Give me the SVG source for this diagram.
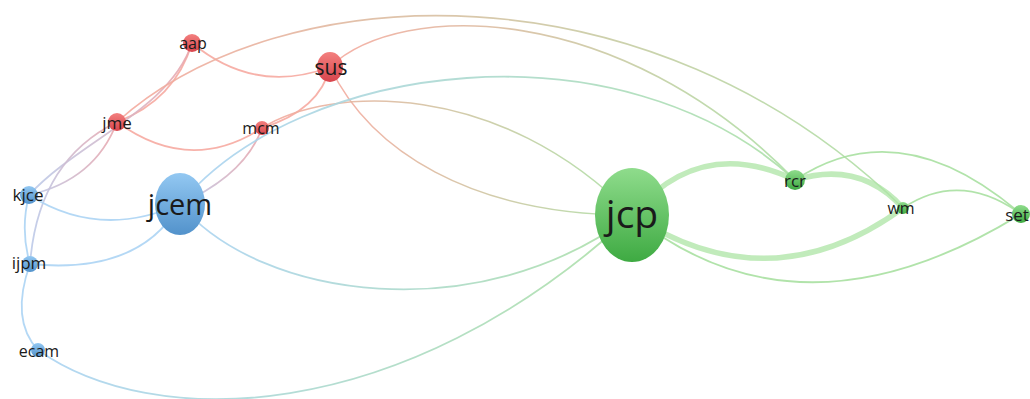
<svg xmlns="http://www.w3.org/2000/svg" width="1030" height="399" viewBox="0 0 1030 399">
<defs>
<linearGradient id="nr" x1="0" y1="0" x2="0" y2="1"><stop offset="0" stop-color="#f3807f"/><stop offset="1" stop-color="#d8444c"/></linearGradient>
<linearGradient id="nb" x1="0" y1="0" x2="0" y2="1"><stop offset="0" stop-color="#93c8f2"/><stop offset="1" stop-color="#5292cb"/></linearGradient>
<linearGradient id="ng" x1="0" y1="0" x2="0" y2="1"><stop offset="0" stop-color="#8fdc8c"/><stop offset="1" stop-color="#3eaa42"/></linearGradient>
<linearGradient id="erg" x1="0" y1="0" x2="1" y2="0"><stop offset="0" stop-color="#f5a99e"/><stop offset="1" stop-color="#ade0a6"/></linearGradient>
<linearGradient id="ebg" x1="0" y1="0" x2="1" y2="0"><stop offset="0" stop-color="#abd3f3"/><stop offset="1" stop-color="#ade0a6"/></linearGradient>
<linearGradient id="ebr" x1="0" y1="0" x2="1" y2="0"><stop offset="0" stop-color="#bccbea"/><stop offset="1" stop-color="#eaa8ae"/></linearGradient>
</defs>
<style>
path{fill:none;stroke-linecap:round;stroke-opacity:0.9}
.r{stroke:#f6aaa1;stroke-width:1.8}
.b{stroke:#acd4f4;stroke-width:1.8}
.g{stroke:#a8e0a1;stroke-width:1.8}
.gt{stroke:#ace4a4;stroke-width:5.5;stroke-opacity:0.75}
.rg{stroke:url(#erg);stroke-width:1.6}
.bg{stroke:url(#ebg);stroke-width:1.8}
.br{stroke:url(#ebr);stroke-width:1.8}
.red{fill:url(#nr)}
.blue{fill:url(#nb)}
.green{fill:url(#ng)}
text{font-family:"Open Sans","Noto Sans","DejaVu Sans",sans-serif;fill:#1a1a1a;text-anchor:middle}
</style>
<g id="connectors">
<path class="r" d="M117,122 Q175,100 192,43"/>
<path class="br" d="M29,195 C80,140 170,110 192,43"/>
<path class="br" d="M29,195 Q95,180 117,122"/>
<path class="br" d="M30,264 C35,200 60,150 117,122"/>
<path class="r" d="M192,43 Q255,95 330,67"/>
<path class="r" d="M117,122 Q190,175 262,128"/>
<path class="r" d="M262,128 Q320,110 330,67"/>
<path class="br" d="M180,204 Q245,175 262,128"/>
<path class="rg" d="M117,122 C280,-25 650,-40 903,208"/>
<path class="rg" d="M330,67 C400,0 620,0 795,180"/>
<path class="rg" d="M330,67 C370,150 470,215 632,215"/>
<path class="rg" d="M262,128 C330,85 500,80 632,215"/>
<path class="bg" d="M180,204 C300,60 620,20 795,180"/>
<path class="b" d="M29,195 Q100,240 180,204"/>
<path class="b" d="M30,264 Q140,275 180,204"/>
<path class="b" d="M29,195 Q20,230 30,264"/>
<path class="b" d="M30,264 Q10,320 38,350"/>
<path class="bg" d="M180,204 C260,300 480,330 632,215"/>
<path class="bg" d="M38,350 C150,430 400,430 632,215"/>
<path class="gt" d="M632,215 Q700,135 795,180"/>
<path class="gt" d="M795,180 Q860,160 903,208"/>
<path class="gt" d="M632,215 Q770,305 903,208"/>
<path class="g" d="M632,215 Q800,350 1021,214"/>
<path class="g" d="M795,180 Q900,110 1021,214"/>
<path class="g" d="M903,208 Q960,170 1021,214"/>
</g>
<g id="node-aap"><circle class="red" cx="192" cy="43" r="9"/><text x="193" y="49" font-size="16">aap</text></g>
<g id="node-sus"><ellipse class="red" cx="330" cy="67" rx="13" ry="15"/><text x="331" y="75" font-size="21">sus</text></g>
<g id="node-jme"><circle class="red" cx="117" cy="122" r="9"/><text x="117" y="129" font-size="17">jme</text></g>
<g id="node-mcm"><circle class="red" cx="262" cy="128" r="7"/><text x="261" y="134" font-size="16">mcm</text></g>
<g id="node-kjce"><circle class="blue" cx="29" cy="195" r="9"/><text x="28" y="201" font-size="17">kjce</text></g>
<g id="node-jcem"><ellipse class="blue" cx="180" cy="204" rx="25" ry="31"/><text x="180" y="215" font-size="29">jcem</text></g>
<g id="node-ijpm"><circle class="blue" cx="30" cy="264" r="8"/><text x="29" y="269" font-size="17">ijpm</text></g>
<g id="node-ecam"><circle class="blue" cx="38" cy="350" r="7"/><text x="39" y="357" font-size="16">ecam</text></g>
<g id="node-jcp"><ellipse class="green" cx="632" cy="215" rx="37" ry="47"/><text x="632" y="228" font-size="39">jcp</text></g>
<g id="node-rcr"><circle class="green" cx="795" cy="180" r="10"/><text x="795" y="187" font-size="17">rcr</text></g>
<g id="node-wm"><circle class="green" cx="903" cy="208" r="6"/><text x="901" y="214" font-size="16">wm</text></g>
<g id="node-set"><circle class="green" cx="1021" cy="214" r="9"/><text x="1017" y="221" font-size="17">set</text></g>
</svg>
